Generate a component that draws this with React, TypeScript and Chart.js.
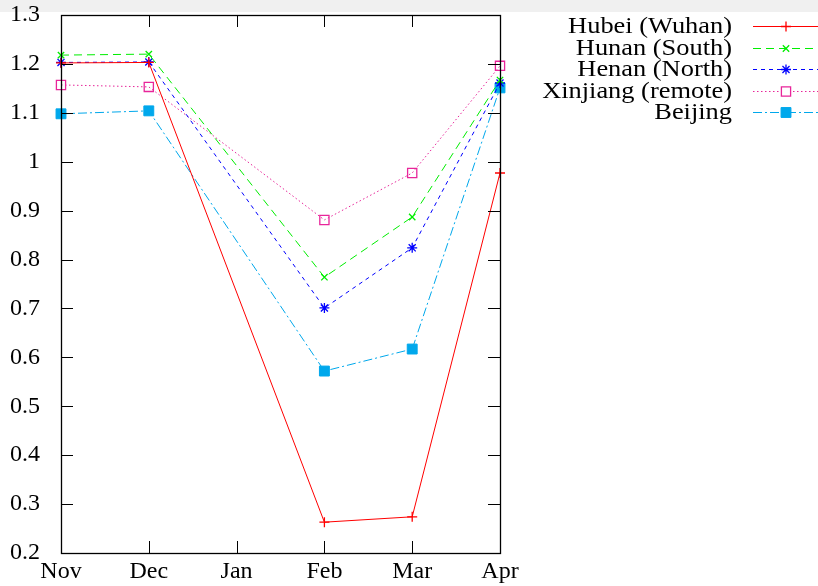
import React, { useEffect, useRef } from "react";
import { Chart, registerables } from "chart.js";
import { drawPoint } from "chart.js/helpers";

Chart.register(...registerables);

const months = ["Nov", "Dec", "Jan", "Feb", "Mar", "Apr"];
const hubei = [1.202, 1.203, null, 0.263, 0.274, 0.977];
const hunan = [1.218, 1.220, null, 0.764, 0.887, 1.167];
const henan = [1.203, 1.204, null, 0.701, 0.824, 1.161];
const xinjiang = [1.157, 1.153, null, 0.881, 0.977, 1.196];
const beijing = [1.098, 1.104, null, 0.572, 0.617, 1.151];

const seriesNames = ["Hubei (Wuhan)", "Hunan (South)", "Henan (North)", "Xinjiang (remote)", "Beijing"];
const seriesData = [hubei, hunan, henan, xinjiang, beijing];
const seriesColors = ["#ff0000", "#00ee00", "#0000ff", "#e8259a", "#00a8ec"];
const seriesDash = [[], [8, 5], [4, 4], [1.5, 2.5], [9, 3, 2, 3]];
const seriesPoint = ["cross", "crossRot", "star", "rect", "rect"];
const seriesRadius = [5, 4.5, 5, 6.5, 7];
const seriesFill = [false, false, false, false, true];

const FONT = '"Liberation Serif", "DejaVu Serif", serif';

export default function App() {
  const ref = useRef<HTMLCanvasElement | null>(null);
  useEffect(() => {
    document.body.style.margin = "0";
    const canvas = ref.current!;
    const bgPlugin = {
      id: "bg",
      beforeDraw(chart: any) {
        const ctx = chart.ctx;
        ctx.save();
        ctx.fillStyle = "#ffffff";
        ctx.fillRect(0, 0, chart.width, chart.height);
        ctx.fillStyle = "#f0f0f0";
        ctx.fillRect(0, 0, chart.width, 12);
        ctx.restore();
      },
    };
    const framePlugin = {
      id: "frame",
      afterDraw(chart: any) {
        const ctx = chart.ctx;
        const a = chart.chartArea;
        const xs = chart.scales.x;
        const ys = chart.scales.y;
        ctx.save();
        ctx.strokeStyle = "#000";
        ctx.lineWidth = 1;
        ctx.setLineDash([]);
        const L = 12;
        ctx.beginPath();
        ys.ticks.forEach((t: any) => {
          const y = Math.round(ys.getPixelForValue(t.value)) + 0.5;
          ctx.moveTo(a.left, y);
          ctx.lineTo(a.left + L, y);
          ctx.moveTo(a.right, y);
          ctx.lineTo(a.right - L, y);
        });
        xs.ticks.forEach((t: any, i: number) => {
          const x = Math.round(xs.getPixelForTick(i)) + 0.5;
          ctx.moveTo(x, a.bottom);
          ctx.lineTo(x, a.bottom - L);
          ctx.moveTo(x, a.top);
          ctx.lineTo(x, a.top + L);
        });
        ctx.stroke();
        ctx.lineWidth = 1.3;
        ctx.strokeRect(a.left + 0.5, a.top + 0.5, a.right - a.left, a.bottom - a.top);
        // legend
        const textX = 732;
        const lineX0 = 753;
        const lineX1 = 818;
        const markX = 786;
        const rowY0 = 26;
        const rowStep = 21.5;
        ctx.font = "24px " + FONT;
        ctx.textAlign = "right";
        ctx.textBaseline = "middle";
        seriesNames.forEach((name, i) => {
          const y = rowY0 + i * rowStep;
          ctx.save();
          ctx.translate(textX, y + 1);
          ctx.scale(1.1, 1);
          ctx.fillStyle = "#000";
          ctx.fillText(name, 0, 0);
          ctx.restore();
          ctx.strokeStyle = seriesColors[i];
          ctx.lineWidth = 1;
          ctx.setLineDash(seriesDash[i]);
          ctx.beginPath();
          ctx.moveTo(lineX0, Math.round(y) + 0.5);
          ctx.lineTo(lineX1, Math.round(y) + 0.5);
          ctx.stroke();
          ctx.setLineDash([]);
          ctx.fillStyle = seriesFill[i] ? seriesColors[i] : "#ffffff";
          ctx.strokeStyle = seriesColors[i];
          ctx.lineWidth = seriesFill[i] ? 1 : 1.3;
          drawPoint(ctx, { pointStyle: seriesPoint[i], radius: seriesRadius[i], borderWidth: ctx.lineWidth, rotation: 0 } as any, markX, Math.round(y) + 0.5);
        });
        ctx.restore();
      },
    };
    const chart = new Chart(canvas, {
      type: "line",
      data: {
        labels: months,
        datasets: seriesNames.map((name, i) => ({
          label: name,
          data: seriesData[i],
          borderColor: seriesColors[i],
          backgroundColor: seriesFill[i] ? seriesColors[i] : "rgba(255,255,255,0)",
          borderWidth: 1,
          borderDash: seriesDash[i],
          pointStyle: seriesPoint[i] as any,
          pointRadius: seriesRadius[i],
          pointBorderWidth: seriesFill[i] ? 1 : 1.3,
          pointBorderColor: seriesColors[i],
          pointBackgroundColor: seriesFill[i] ? seriesColors[i] : "rgba(255,255,255,0)",
          spanGaps: true,
          tension: 0,
          fill: false,
        })),
      },
      options: {
        responsive: false,
        devicePixelRatio: 1,
        animation: false,
        layout: { autoPadding: false, padding: { top: 15, right: 318, left: 0, bottom: 0 } },
        plugins: { legend: { display: false }, tooltip: { enabled: false } },
        scales: {
          x: {
            type: "category",
            offset: false,
            grid: { display: false, drawTicks: false, tickLength: 0 },
            border: { display: false },
            ticks: {
              color: "#000",
              font: { family: FONT, size: 24 },
              padding: 4,
              maxRotation: 0,
              autoSkip: false,
            },
            afterFit(scale: any) {
              scale.height = 33;
            },
          },
          y: {
            min: 0.2,
            max: 1.3,
            grid: { display: false, drawTicks: true, tickLength: 21 },
            border: { display: false },
            ticks: {
              stepSize: 0.1,
              color: "#000",
              font: { family: FONT, size: 24 },
              padding: 0,
              callback: (v: any) => String(Number(Number(v).toFixed(1))),
            },
            afterFit(scale: any) {
              scale.width = 61;
            },
          },
        },
      },
      plugins: [bgPlugin, framePlugin],
    });
    return () => chart.destroy();
  }, []);
  return (
    <div style={{ width: 818, height: 586 }}>
      <canvas ref={ref} width={818} height={586} style={{ display: "block" }} />
    </div>
  );
}
